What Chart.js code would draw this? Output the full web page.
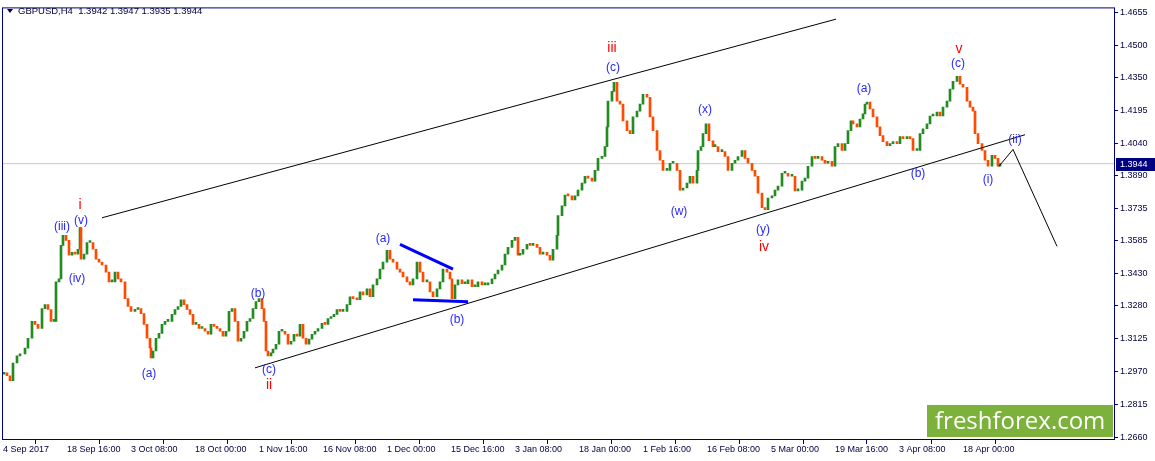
<!DOCTYPE html>
<html>
<head>
<meta charset="utf-8">
<script src="https://cdn.jsdelivr.net/npm/chart.js@4.4.1/dist/chart.umd.min.js"></script>
<style>
  html, body { margin: 0; padding: 0; background: #fff; }
  #wrap { width: 1155px; height: 461px; position: relative; }
</style>
</head>
<body>
<div id="wrap"><canvas id="chart"></canvas></div>
<script>
// GBPUSD H4, one point every ~3 bars (bar 0 = 4 Sep 2017 00:00)
const titleText = 'GBPUSD,H4  1.3942 1.3947 1.3935 1.3944';
const lastPrice = 1.3944;
const firstOpen = 1.2955;

const barIndex = [
  1, 4, 7, 10, 14, 17, 22, 25, 29, 32,
  35, 39, 42, 45, 48, 51, 53, 56, 58, 60,
  63, 66, 69, 72, 75, 77, 78, 81, 84, 87,
  90, 93, 96, 99, 103, 106, 109, 112, 115, 118,
  122, 125, 128, 132, 135, 138, 141, 144, 147, 148,
  150, 153, 156, 159, 162, 165, 169, 172, 175, 178,
  181, 184, 187, 190, 193, 196, 199, 202, 205, 208,
  211, 214, 217, 220, 223, 226, 229, 232, 235, 238,
  241, 244, 247, 250, 253, 256, 259, 261, 263, 265,
  268, 270, 273, 276, 279, 282, 285, 288, 291, 294,
  297, 300, 303, 306, 309, 312, 315, 319, 322, 325,
  328, 331, 334, 337, 340, 344, 347, 350, 354, 357,
  360, 364, 367, 370, 374, 377, 380, 384, 387, 390,
  394, 397, 400, 404, 407, 410, 414, 417, 420, 424,
  427, 430, 434, 437, 440, 444, 447, 449, 452, 455,
  459, 462, 465, 469, 472, 475, 479, 482, 485, 489,
  492, 495, 499, 502, 505, 509, 512, 515, 517, 520,
  524, 527, 530, 534, 537, 540, 544, 547, 550, 554,
  555, 559, 562, 565, 569, 572, 575, 579, 582, 585,
  589, 592, 595, 599, 602, 604, 605, 609, 611, 614,
  617, 620, 624, 627, 630, 634, 637, 640, 644, 647,
  650, 654, 657, 660, 664, 667, 670, 674, 677, 680,
  684, 687, 690, 694, 695, 698, 700, 703, 706, 710,
  712, 715, 719, 722, 725, 729, 732, 735, 739, 742,
  745, 749, 752, 755, 759, 762, 765, 769, 772, 775,
  779, 782, 785, 789, 792, 795, 799, 802, 805, 809,
  812, 815, 819, 822, 825, 829, 832, 835, 839, 842,
  845, 848, 850, 854, 857, 860, 862, 864, 867, 870,
  874, 877, 880, 884, 887, 890, 894, 897, 900, 904,
  907, 910, 914, 917, 920, 924, 927, 930, 934, 937,
  940, 944, 947, 950, 954, 957, 960, 964, 967, 970,
  972, 975, 979, 982, 985, 989, 992, 995, 997
];

const closes = [
  1.2962, 1.2948, 1.2925, 1.3008, 1.3041, 1.3050, 1.3078, 1.3124, 1.3203, 1.3189,
  1.3170, 1.3263, 1.3282, 1.3259, 1.3203, 1.3203, 1.3389, 1.3403, 1.3560, 1.3607,
  1.3584, 1.3514, 1.3528, 1.3519, 1.3542, 1.3644, 1.3496, 1.3519, 1.3574, 1.3574,
  1.3542, 1.3496, 1.3482, 1.3468, 1.3435, 1.3389, 1.3389, 1.3435, 1.3403, 1.3389,
  1.3310, 1.3273, 1.3250, 1.3259, 1.3263, 1.3240, 1.3189, 1.3124, 1.3078, 1.3032,
  1.3064, 1.3124, 1.3147, 1.3189, 1.3203, 1.3203, 1.3236, 1.3259, 1.3273, 1.3305,
  1.3282, 1.3259, 1.3236, 1.3189, 1.3189, 1.3170, 1.3170, 1.3157, 1.3143, 1.3189,
  1.3180, 1.3170, 1.3157, 1.3134, 1.3157, 1.3250, 1.3263, 1.3203, 1.3110, 1.3124,
  1.3157, 1.3203, 1.3217, 1.3263, 1.3296, 1.3310, 1.3263, 1.3203, 1.3064, 1.3041,
  1.3055, 1.3073, 1.3096, 1.3157, 1.3157, 1.3143, 1.3096, 1.3110, 1.3143, 1.3134,
  1.3189, 1.3124, 1.3096, 1.3120, 1.3143, 1.3157, 1.3170, 1.3194, 1.3189, 1.3217,
  1.3226, 1.3236, 1.3259, 1.3250, 1.3250, 1.3282, 1.3319, 1.3310, 1.3305, 1.3342,
  1.3328, 1.3356, 1.3319, 1.3375, 1.3403, 1.3449, 1.3482, 1.3537, 1.3496, 1.3482,
  1.3449, 1.3435, 1.3412, 1.3389, 1.3375, 1.3403, 1.3482, 1.3435, 1.3389, 1.3389,
  1.3342, 1.3319, 1.3356, 1.3389, 1.3449, 1.3435, 1.3403, 1.3310, 1.3375, 1.3398,
  1.3380, 1.3380, 1.3398, 1.3366, 1.3366, 1.3389, 1.3375, 1.3375, 1.3380, 1.3403,
  1.3426, 1.3444, 1.3468, 1.3519, 1.3551, 1.3584, 1.3598, 1.3514, 1.3519, 1.3542,
  1.3565, 1.3560, 1.3565, 1.3551, 1.3519, 1.3528, 1.3514, 1.3491, 1.3542, 1.3607,
  1.3700, 1.3746, 1.3797, 1.3793, 1.3774, 1.3793, 1.3820, 1.3853, 1.3885, 1.3876,
  1.3862, 1.3913, 1.3969, 1.3978, 1.4024, 1.4117, 1.4238, 1.4284, 1.4326, 1.4238,
  1.4224, 1.4145, 1.4099, 1.4085, 1.4164, 1.4191, 1.4224, 1.4270, 1.4256, 1.4164,
  1.4099, 1.4006, 1.3960, 1.3913, 1.3913, 1.3946, 1.3946, 1.3913, 1.3820, 1.3830,
  1.3853, 1.3885, 1.3853, 1.3913, 1.4006, 1.4024, 1.4085, 1.4131, 1.4052, 1.4024,
  1.4024, 1.4001, 1.4001, 1.3978, 1.3913, 1.3946, 1.3960, 1.3978, 1.4006, 1.3969,
  1.3946, 1.3913, 1.3885, 1.3806, 1.3737, 1.3728, 1.3783, 1.3793, 1.3820, 1.3839,
  1.3899, 1.3899, 1.3885, 1.3885, 1.3816, 1.3820, 1.3862, 1.3876, 1.3932, 1.3978,
  1.3969, 1.3978, 1.3960, 1.3946, 1.3955, 1.3932, 1.4024, 1.4038, 1.4006, 1.4038,
  1.4099, 1.4145, 1.4131, 1.4117, 1.4154, 1.4178, 1.4224, 1.4233, 1.4201, 1.4164,
  1.4117, 1.4076, 1.4048, 1.4029, 1.4038, 1.4048, 1.4038, 1.4071, 1.4062, 1.4071,
  1.4062, 1.4006, 1.4006, 1.4085, 1.4108, 1.4131, 1.4168, 1.4168, 1.4187, 1.4168,
  1.4210, 1.4238, 1.4294, 1.4331, 1.4354, 1.4317, 1.4303, 1.4238, 1.4210, 1.4191,
  1.4085, 1.4038, 1.4006, 1.3960, 1.3932, 1.3983, 1.3969, 1.3932, 1.3944
];

const xTickBars = [0, 64, 128, 192, 256, 320, 384, 448, 512, 576, 640, 704, 768, 832, 896, 960];
const xTickLabels = ['4 Sep 2017', '18 Sep 16:00', '3 Oct 08:00', '18 Oct 00:00', '1 Nov 16:00',
  '16 Nov 08:00', '1 Dec 00:00', '15 Dec 16:00', '3 Jan 08:00', '18 Jan 00:00', '1 Feb 16:00',
  '16 Feb 08:00', '5 Mar 00:00', '19 Mar 16:00', '3 Apr 08:00', '18 Apr 00:00'];
const yTickValues = [1.4655, 1.4500, 1.4350, 1.4195, 1.4040, 1.3890, 1.3735, 1.3585,
  1.3430, 1.3280, 1.3125, 1.2970, 1.2815, 1.2660];

// drawn lines (bar, price)
const upperChannelBars = [99, 833], upperChannelPrices = [1.3690, 1.4623];
const lowerChannelBars = [252, 1022], lowerChannelPrices = [1.2985, 1.4080];
const triTopBars = [397, 450], triTopPrices = [1.3565, 1.3449];
const triBaseBars = [410, 465], triBasePrices = [1.3305, 1.3296];
const forecastBars = [996, 1010, 1054], forecastPrices = [1.3932, 1.4011, 1.3556];

// wave marks
const blueText = ['(iii)', '(v)', '(iv)', '(a)', '(b)', '(c)', '(a)', '(b)', '(c)', '(w)', '(x)', '(y)', '(a)', '(b)', '(c)', '(i)', '(ii)'];
const blueBars = [59, 78, 74, 146, 255, 266, 380, 454, 610, 676, 702, 760, 861, 915, 955, 985, 1012];
const bluePrices = [1.3649, 1.3676, 1.3403, 1.2957, 1.3333, 1.2976, 1.3593, 1.3212, 1.4396, 1.3718, 1.4196, 1.3635, 1.4298, 1.3899, 1.4414, 1.3867, 1.4057];
const redText = ['i', 'ii', 'iii', 'iv', 'v'];
const redBars = [77, 266, 609, 761, 956];
const redPrices = [1.3751, 1.2902, 1.4488, 1.3551, 1.4484];

const NAVY = '#000080';
const UP = '#228b22';
const DOWN = '#ff4b00';

const candleData = closes.map((c, i) => {
    const o = i === 0 ? firstOpen : closes[i - 1];
    return { x: barIndex[i], y: [o, c] };
});
const candleColors = candleData.map(d => d.y[1] >= d.y[0] ? UP : DOWN);

function pts(bars, prices) {
    return bars.map((b, i) => ({ x: b, y: prices[i] }));
}

function lineSet(data, color, width) {
    return {
        type: 'line', data: data, borderColor: color, borderWidth: width,
        pointRadius: 0, tension: 0, fill: false, order: 1
    };
}

const yMax = 1.46782, yMin = 1.26461;

const overlayPlugin = {
    id: 'overlay',
    afterDatasetsDraw(chart) {
        const { ctx, scales: { x, y } } = chart;
        ctx.save();
        ctx.textAlign = 'center';
        ctx.textBaseline = 'middle';
        ctx.font = '12px "Liberation Sans", Arial, sans-serif';
        ctx.fillStyle = '#2828ff';
        blueText.forEach((t, i) => ctx.fillText(t, x.getPixelForValue(blueBars[i]), y.getPixelForValue(bluePrices[i])));
        ctx.font = '14px "Liberation Sans", Arial, sans-serif';
        ctx.fillStyle = '#ff0000';
        redText.forEach((t, i) => ctx.fillText(t, x.getPixelForValue(redBars[i]), y.getPixelForValue(redPrices[i])));
        ctx.restore();
    },
    afterDraw(chart) {
        const { ctx, chartArea: a, scales: { y } } = chart;
        ctx.save();
        // frame
        ctx.strokeStyle = NAVY;
        ctx.lineWidth = 1;
        ctx.strokeRect(a.left + 0.5, a.top + 0.5, a.right - a.left - 1, a.bottom - a.top - 1);
        // title
        ctx.fillStyle = '#000040';
        ctx.beginPath();
        ctx.moveTo(7, 9); ctx.lineTo(13, 9); ctx.lineTo(10, 13); ctx.closePath();
        ctx.fill();
        ctx.font = '9.5px "Liberation Sans", Arial, sans-serif';
        ctx.textBaseline = 'middle';
        ctx.textAlign = 'left';
        ctx.fillText(titleText, 18, 11);
        // last price box
        const py = Math.round(y.getPixelForValue(lastPrice));
        ctx.fillStyle = NAVY;
        ctx.fillRect(a.right + 1, py - 6, 1155 - a.right - 1, 13);
        ctx.fillStyle = '#ffffff';
        ctx.font = '9px "Liberation Sans", Arial, sans-serif';
        ctx.fillText(lastPrice.toFixed(4), a.right + 5, py + 1);
        // watermark
        ctx.fillStyle = '#7cb13b';
        ctx.fillRect(927, 405, a.right - 2 - 927, 32);
        ctx.fillStyle = '#ffffff';
        ctx.font = '24px "Open Sans", sans-serif';
        ctx.textAlign = 'left';
        ctx.fillText('freshforex.com', 935, 422);
        ctx.restore();
    }
};

new Chart(document.getElementById('chart'), {
    type: 'bar',
    data: {
        datasets: [
            {
                type: 'line', data: pts([-1, 1112], [lastPrice, lastPrice]),
                borderColor: '#c8c8c8', borderWidth: 1, pointRadius: 0, order: 20
            },
            {
                type: 'bar', data: candleData, backgroundColor: candleColors,
                barThickness: 2, minBarLength: 2, order: 10
            },
            lineSet(pts(upperChannelBars, upperChannelPrices), '#000000', 1),
            lineSet(pts(lowerChannelBars, lowerChannelPrices), '#000000', 1),
            lineSet(pts(triTopBars, triTopPrices), '#0000ff', 3),
            lineSet(pts(triBaseBars, triBasePrices), '#0000ff', 3),
            lineSet(pts(forecastBars, forecastPrices), '#000000', 1)
        ]
    },
    options: {
        responsive: true,
        maintainAspectRatio: false,
        animation: false,
        events: [],
        layout: { padding: { left: 2, top: 2, right: 0, bottom: 0 } },
        plugins: { legend: { display: false }, tooltip: { enabled: false } },
        scales: {
            x: {
                type: 'linear', position: 'bottom', min: -1, max: 1112, offset: false,
                afterBuildTicks: s => { s.ticks = xTickBars.map(v => ({ value: v })); },
                afterFit: s => { s.height = 21; },
                grid: { drawOnChartArea: false, drawTicks: true, tickLength: 4, color: NAVY },
                border: { display: false },
                ticks: {
                    autoSkip: false, maxRotation: 0, align: 'start', padding: 0,
                    color: '#000040', font: { family: '"Liberation Sans", Arial', size: 9 },
                    callback: (v, i) => xTickLabels[i]
                }
            },
            y: {
                type: 'linear', position: 'right', min: yMin, max: yMax,
                afterBuildTicks: s => { s.ticks = yTickValues.map(v => ({ value: v })); },
                afterFit: s => { s.width = 40; },
                grid: { drawOnChartArea: false, drawTicks: true, tickLength: 3, color: NAVY },
                border: { display: false },
                ticks: {
                    padding: 2, color: '#000040',
                    font: { family: '"Liberation Sans", Arial', size: 9 },
                    callback: v => Number(v).toFixed(4)
                }
            }
        }
    },
    plugins: [overlayPlugin]
});
</script>
</body>
</html>
